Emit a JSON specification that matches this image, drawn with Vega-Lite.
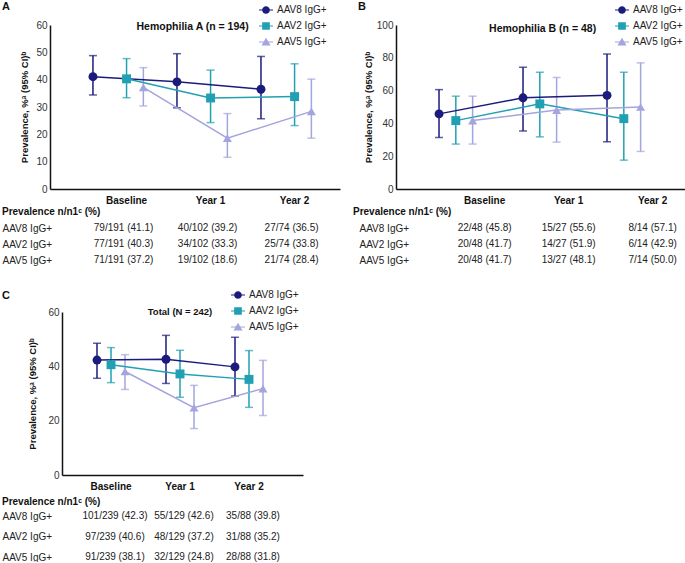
{
"$schema": "https://vega.github.io/schema/vega-lite/v6.json",
"padding": {"left": 2, "top": 1, "right": 0, "bottom": 0},
"config": {
  "font": "Liberation Sans",
  "view": {"stroke": null},
  "axis": {"grid": false, "ticks": false, "tickSize": 0, "labelOverlap": false, "domainColor": "#111", "domainWidth": 1.5, "labelFontSize": 10, "labelColor": "#333", "titleFontSize": 9.5, "titleFontWeight": "bold", "titleColor": "#111"},
  "axisX": {"labelFontWeight": "bold", "labelColor": "#111", "labelAngle": 0, "labelPadding": 6},
  "axisY": {"labelPadding": 3},
  "legend": {"labelFontSize": 10, "labelColor": "#222", "symbolSize": 196, "symbolOpacity": 1, "rowPadding": 1, "labelOffset": 3, "padding": 0},
  "title": {"fontSize": 11, "fontWeight": "bold", "color": "#111"}
},
"datasets": {
  "d": [
    {"panel":"A","time":"Baseline","series":"AAV8 IgG+","value":41.1,"lo":34.4,"hi":48.8},
    {"panel":"A","time":"Year 1","series":"AAV8 IgG+","value":39.2,"lo":29.7,"hi":49.5},
    {"panel":"A","time":"Year 2","series":"AAV8 IgG+","value":36.5,"lo":25.7,"hi":48.5},
    {"panel":"A","time":"Baseline","series":"AAV2 IgG+","value":40.3,"lo":33.4,"hi":47.7},
    {"panel":"A","time":"Year 1","series":"AAV2 IgG+","value":33.3,"lo":24.3,"hi":43.5},
    {"panel":"A","time":"Year 2","series":"AAV2 IgG+","value":33.8,"lo":23.2,"hi":45.8},
    {"panel":"A","time":"Baseline","series":"AAV5 IgG+","value":37.2,"lo":30.4,"hi":44.4},
    {"panel":"A","time":"Year 1","series":"AAV5 IgG+","value":18.6,"lo":11.6,"hi":27.6},
    {"panel":"A","time":"Year 2","series":"AAV5 IgG+","value":28.4,"lo":18.6,"hi":40.2},
    {"panel":"B","time":"Baseline","series":"AAV8 IgG+","value":45.8,"lo":31.4,"hi":60.6},
    {"panel":"B","time":"Year 1","series":"AAV8 IgG+","value":55.6,"lo":35.3,"hi":74.2},
    {"panel":"B","time":"Year 2","series":"AAV8 IgG+","value":57.1,"lo":28.8,"hi":82.3},
    {"panel":"B","time":"Baseline","series":"AAV2 IgG+","value":41.7,"lo":27.4,"hi":56.6},
    {"panel":"B","time":"Year 1","series":"AAV2 IgG+","value":51.9,"lo":31.8,"hi":71.2},
    {"panel":"B","time":"Year 2","series":"AAV2 IgG+","value":42.9,"lo":17.6,"hi":71.2},
    {"panel":"B","time":"Baseline","series":"AAV5 IgG+","value":41.7,"lo":27.4,"hi":56.6},
    {"panel":"B","time":"Year 1","series":"AAV5 IgG+","value":48.1,"lo":28.6,"hi":68.0},
    {"panel":"B","time":"Year 2","series":"AAV5 IgG+","value":50.0,"lo":22.9,"hi":76.9},
    {"panel":"C","time":"Baseline","series":"AAV8 IgG+","value":42.3,"lo":35.6,"hi":48.5},
    {"panel":"C","time":"Year 1","series":"AAV8 IgG+","value":42.6,"lo":33.7,"hi":51.4},
    {"panel":"C","time":"Year 2","series":"AAV8 IgG+","value":39.8,"lo":29.1,"hi":50.7},
    {"panel":"C","time":"Baseline","series":"AAV2 IgG+","value":40.6,"lo":34.0,"hi":46.9},
    {"panel":"C","time":"Year 1","series":"AAV2 IgG+","value":37.2,"lo":28.6,"hi":45.9},
    {"panel":"C","time":"Year 2","series":"AAV2 IgG+","value":35.2,"lo":24.9,"hi":45.8},
    {"panel":"C","time":"Baseline","series":"AAV5 IgG+","value":38.1,"lo":31.5,"hi":44.3},
    {"panel":"C","time":"Year 1","series":"AAV5 IgG+","value":24.8,"lo":17.1,"hi":33.0},
    {"panel":"C","time":"Year 2","series":"AAV5 IgG+","value":31.8,"lo":21.9,"hi":42.2}
  ],
  "t": [
    {"panel":"A","time":"Baseline","series":"AAV8 IgG+","label":"79/191 (41.1)"},
    {"panel":"A","time":"Year 1","series":"AAV8 IgG+","label":"40/102 (39.2)"},
    {"panel":"A","time":"Year 2","series":"AAV8 IgG+","label":"27/74 (36.5)"},
    {"panel":"A","time":"Baseline","series":"AAV2 IgG+","label":"77/191 (40.3)"},
    {"panel":"A","time":"Year 1","series":"AAV2 IgG+","label":"34/102 (33.3)"},
    {"panel":"A","time":"Year 2","series":"AAV2 IgG+","label":"25/74 (33.8)"},
    {"panel":"A","time":"Baseline","series":"AAV5 IgG+","label":"71/191 (37.2)"},
    {"panel":"A","time":"Year 1","series":"AAV5 IgG+","label":"19/102 (18.6)"},
    {"panel":"A","time":"Year 2","series":"AAV5 IgG+","label":"21/74 (28.4)"},
    {"panel":"B","time":"Baseline","series":"AAV8 IgG+","label":"22/48 (45.8)"},
    {"panel":"B","time":"Year 1","series":"AAV8 IgG+","label":"15/27 (55.6)"},
    {"panel":"B","time":"Year 2","series":"AAV8 IgG+","label":"8/14 (57.1)"},
    {"panel":"B","time":"Baseline","series":"AAV2 IgG+","label":"20/48 (41.7)"},
    {"panel":"B","time":"Year 1","series":"AAV2 IgG+","label":"14/27 (51.9)"},
    {"panel":"B","time":"Year 2","series":"AAV2 IgG+","label":"6/14 (42.9)"},
    {"panel":"B","time":"Baseline","series":"AAV5 IgG+","label":"20/48 (41.7)"},
    {"panel":"B","time":"Year 1","series":"AAV5 IgG+","label":"13/27 (48.1)"},
    {"panel":"B","time":"Year 2","series":"AAV5 IgG+","label":"7/14 (50.0)"},
    {"panel":"C","time":"Baseline","series":"AAV8 IgG+","label":"101/239 (42.3)"},
    {"panel":"C","time":"Year 1","series":"AAV8 IgG+","label":"55/129 (42.6)"},
    {"panel":"C","time":"Year 2","series":"AAV8 IgG+","label":"35/88 (39.8)"},
    {"panel":"C","time":"Baseline","series":"AAV2 IgG+","label":"97/239 (40.6)"},
    {"panel":"C","time":"Year 1","series":"AAV2 IgG+","label":"48/129 (37.2)"},
    {"panel":"C","time":"Year 2","series":"AAV2 IgG+","label":"31/88 (35.2)"},
    {"panel":"C","time":"Baseline","series":"AAV5 IgG+","label":"91/239 (38.1)"},
    {"panel":"C","time":"Year 1","series":"AAV5 IgG+","label":"32/129 (24.8)"},
    {"panel":"C","time":"Year 2","series":"AAV5 IgG+","label":"28/88 (31.8)"}
  ]
},
"resolve": {"scale": {"x": "independent", "y": "independent", "xOffset": "independent", "color": "independent", "shape": "independent"}, "legend": {"color": "independent", "shape": "independent"}},
"columns": 1,
"spacing": 22,
"concat": [
 {
  "spacing": 13,
  "resolve": {"scale": {"x": "independent", "y": "independent", "xOffset": "independent", "color": "independent", "shape": "independent"}, "legend": {"color": "independent", "shape": "independent"}},
  "hconcat": [
   {
    "title": {"text": "A", "anchor": "start", "frame": "bounds", "offset": -10},
    "spacing": 2,
    "resolve": {"scale": {"x": "independent", "y": "independent", "xOffset": "independent", "color": "independent", "shape": "independent"}, "legend": {"color": "independent", "shape": "independent"}},
    "vconcat": [
     {
      "width": 290, "height": 164,
      "layer": [
       {
        "data": {"name": "d"},
        "transform": [{"filter": "datum.panel == 'A'"}],
        "resolve": {"scale": {"color": "independent", "shape": "independent"}, "legend": {"color": "independent", "shape": "independent"}},
        "encoding": {
          "x": {"field": "time", "type": "nominal", "title": null, "scale": {"type": "band", "domain": ["Baseline","Year 1","Year 2"], "paddingInner": 0, "paddingOuter": 0.226, "align": 0.91}},
          "xOffset": {"field": "series", "type": "nominal", "scale": {"domain": ["AAV8 IgG+","g1","AAV2 IgG+","AAV5 IgG+","g2"], "paddingInner": 0, "paddingOuter": 0}},
          "y": {"field": "value", "type": "quantitative", "title": "Prevalence, %ᵃ (95% CI)ᵇ", "scale": {"domain": [0, 60], "nice": false}, "axis": {"values": [0,10,20,30,40,50,60], "titlePadding": 6}},
          "color": {"field": "series", "type": "nominal", "title": null, "scale": {"domain": ["AAV8 IgG+","AAV2 IgG+","AAV5 IgG+"], "range": ["#1b1b7d","#21a0b3","#a4a4de"]}, "legend": null}
        },
        "layer": [
          {"mark": {"type": "rule", "strokeWidth": 1.5}, "encoding": {"y": {"field": "lo", "type": "quantitative", "title": "Prevalence, %ᵃ (95% CI)ᵇ", "scale": {"domain": [0, 60], "nice": false}, "axis": {"values": [0,10,20,30,40,50,60], "titlePadding": 6}}, "y2": {"field": "hi"}}},
          {"mark": {"type": "tick", "size": 8, "thickness": 1.5}, "encoding": {"y": {"field": "lo", "type": "quantitative", "title": "Prevalence, %ᵃ (95% CI)ᵇ", "scale": {"domain": [0, 60], "nice": false}, "axis": {"values": [0,10,20,30,40,50,60], "titlePadding": 6}}}},
          {"mark": {"type": "tick", "size": 8, "thickness": 1.5}, "encoding": {"y": {"field": "hi", "type": "quantitative", "title": "Prevalence, %ᵃ (95% CI)ᵇ", "scale": {"domain": [0, 60], "nice": false}, "axis": {"values": [0,10,20,30,40,50,60], "titlePadding": 6}}}},
          {"mark": {"type": "line", "strokeWidth": 1.5}},
          {"mark": {"type": "point", "filled": true, "opacity": 1, "size": 80}, "encoding": {"shape": {"field": "series", "type": "nominal", "title": null, "scale": {"domain": ["AAV8 IgG+","AAV2 IgG+","AAV5 IgG+"], "range": ["circle","square","triangle-up"]}, "legend": null}}},
          {"transform": [{"filter": "false"}], "mark": {"type": "point", "filled": true, "opacity": 1}, "encoding": {
            "color": {"field": "series", "type": "nominal", "title": null, "scale": {"domain": ["AAV8 IgG+","AAV2 IgG+","AAV5 IgG+"], "range": ["#1b1b7d","#21a0b3","#a4a4de"]}, "legend": {"orient": "none", "legendX": 208, "legendY": -23, "symbolSize": 196, "symbolOpacity": 1}},
            "shape": {"field": "series", "type": "nominal", "title": null, "scale": {"domain": ["AAV8 IgG+","AAV2 IgG+","AAV5 IgG+"], "range": ["M-1,-0.08H1V0.08H-1Z M0.55,0A0.55,0.55,0,1,1,-0.55,0A0.55,0.55,0,1,1,0.55,0Z","M-1,-0.08H1V0.08H-1Z M-0.55,-0.55H0.55V0.55H-0.55Z","M-1,-0.08H1V0.08H-1Z M0,-0.6L0.65,0.5H-0.65Z"]}, "legend": {"orient": "none", "legendX": 208, "legendY": -23, "symbolSize": 196, "symbolOpacity": 1}}}}
        ]
       },
       {
        "data": {"values": [{"t": "Hemophilia A (n = 194)"}]},
        "mark": {"type": "text", "fontWeight": "bold", "fontSize": 10.5, "dx": -18, "dy": 2, "color": "#111"},
        "encoding": {"x": {"datum": "Year 1", "title": null}, "y": {"datum": 60, "type": "quantitative", "title": "Prevalence, %ᵃ (95% CI)ᵇ", "scale": {"domain": [0, 60], "nice": false}, "axis": {"values": [0,10,20,30,40,50,60], "titlePadding": 6}}, "text": {"field": "t"}}
       }
      ]
     },
     {
      "width": 290, "height": 32,
      "data": {"name": "t"},
      "transform": [{"filter": "datum.panel == 'A'"}],
      "title": {"text": "Prevalence n/n1ᶜ (%)", "anchor": "start", "frame": "bounds", "offset": 6, "fontSize": 10},
      "mark": {"type": "text", "fontSize": 10, "color": "#222", "dx": -3},
      "encoding": {
        "x": {"field": "time", "type": "nominal", "scale": {"type": "band", "domain": ["Baseline","Year 1","Year 2"], "paddingInner": 0, "paddingOuter": 0.226, "align": 0.91}, "axis": null},
        "y": {"field": "series", "type": "nominal", "scale": {"type": "point", "padding": 0, "domain": ["AAV8 IgG+","AAV2 IgG+","AAV5 IgG+"]}, "axis": {"title": null, "domain": false, "ticks": false, "labelAlign": "left", "labelPadding": 48, "labelFontSize": 10, "labelColor": "#222"}},
        "text": {"field": "label"}
      }
     }
    ]
   },
   {
    "title": {"text": "B", "anchor": "start", "frame": "bounds", "offset": -10, "dx": 5},
    "spacing": 2,
    "resolve": {"scale": {"x": "independent", "y": "independent", "xOffset": "independent", "color": "independent", "shape": "independent"}, "legend": {"color": "independent", "shape": "independent"}},
    "vconcat": [
     {
      "width": 295, "height": 164,
      "layer": [
       {
        "data": {"name": "d"},
        "transform": [{"filter": "datum.panel == 'B'"}],
        "resolve": {"scale": {"color": "independent", "shape": "independent"}, "legend": {"color": "independent", "shape": "independent"}},
        "encoding": {
          "x": {"field": "time", "type": "nominal", "title": null, "scale": {"type": "band", "domain": ["Baseline","Year 1","Year 2"], "paddingInner": 0, "paddingOuter": 0.256, "align": 0.805}, "axis": {"labelOffset": 12}},
          "xOffset": {"field": "series", "type": "nominal", "scale": {"domain": ["AAV8 IgG+","AAV2 IgG+","AAV5 IgG+","g1","g2"], "paddingInner": 0, "paddingOuter": 0}},
          "y": {"field": "value", "type": "quantitative", "title": "Prevalence, %ᵃ (95% CI)ᵇ", "scale": {"domain": [0, 100], "nice": false}, "axis": {"values": [0,20,40,60,80,100], "titlePadding": 3}},
          "color": {"field": "series", "type": "nominal", "title": null, "scale": {"domain": ["AAV8 IgG+","AAV2 IgG+","AAV5 IgG+"], "range": ["#1b1b7d","#21a0b3","#a4a4de"]}, "legend": null}
        },
        "layer": [
          {"mark": {"type": "rule", "strokeWidth": 1.5}, "encoding": {"y": {"field": "lo", "type": "quantitative", "title": "Prevalence, %ᵃ (95% CI)ᵇ", "scale": {"domain": [0, 100], "nice": false}, "axis": {"values": [0,20,40,60,80,100], "titlePadding": 3}}, "y2": {"field": "hi"}}},
          {"mark": {"type": "tick", "size": 8, "thickness": 1.5}, "encoding": {"y": {"field": "lo", "type": "quantitative", "title": "Prevalence, %ᵃ (95% CI)ᵇ", "scale": {"domain": [0, 100], "nice": false}, "axis": {"values": [0,20,40,60,80,100], "titlePadding": 3}}}},
          {"mark": {"type": "tick", "size": 8, "thickness": 1.5}, "encoding": {"y": {"field": "hi", "type": "quantitative", "title": "Prevalence, %ᵃ (95% CI)ᵇ", "scale": {"domain": [0, 100], "nice": false}, "axis": {"values": [0,20,40,60,80,100], "titlePadding": 3}}}},
          {"mark": {"type": "line", "strokeWidth": 1.5}},
          {"mark": {"type": "point", "filled": true, "opacity": 1, "size": 80}, "encoding": {"shape": {"field": "series", "type": "nominal", "title": null, "scale": {"domain": ["AAV8 IgG+","AAV2 IgG+","AAV5 IgG+"], "range": ["circle","square","triangle-up"]}, "legend": null}}},
          {"transform": [{"filter": "false"}], "mark": {"type": "point", "filled": true, "opacity": 1}, "encoding": {
            "color": {"field": "series", "type": "nominal", "title": null, "scale": {"domain": ["AAV8 IgG+","AAV2 IgG+","AAV5 IgG+"], "range": ["#1b1b7d","#21a0b3","#a4a4de"]}, "legend": {"orient": "none", "legendX": 218, "legendY": -23, "symbolSize": 196, "symbolOpacity": 1}},
            "shape": {"field": "series", "type": "nominal", "title": null, "scale": {"domain": ["AAV8 IgG+","AAV2 IgG+","AAV5 IgG+"], "range": ["M-1,-0.08H1V0.08H-1Z M0.55,0A0.55,0.55,0,1,1,-0.55,0A0.55,0.55,0,1,1,0.55,0Z","M-1,-0.08H1V0.08H-1Z M-0.55,-0.55H0.55V0.55H-0.55Z","M-1,-0.08H1V0.08H-1Z M0,-0.6L0.65,0.5H-0.65Z"]}, "legend": {"orient": "none", "legendX": 218, "legendY": -23, "symbolSize": 196, "symbolOpacity": 1}}}}
        ]
       },
       {
        "data": {"values": [{"t": "Hemophilia B (n = 48)"}]},
        "mark": {"type": "text", "fontWeight": "bold", "fontSize": 10.5, "dx": -14, "dy": 4, "color": "#111"},
        "encoding": {"x": {"datum": "Year 1", "title": null}, "y": {"datum": 100, "type": "quantitative", "title": "Prevalence, %ᵃ (95% CI)ᵇ", "scale": {"domain": [0, 100], "nice": false}, "axis": {"values": [0,20,40,60,80,100], "titlePadding": 3}}, "text": {"field": "t"}}
       }
      ]
     },
     {
      "width": 295, "height": 32,
      "data": {"name": "t"},
      "transform": [{"filter": "datum.panel == 'B'"}],
      "title": {"text": "Prevalence n/n1ᶜ (%)", "anchor": "start", "frame": "bounds", "offset": 6, "fontSize": 10, "dx": -6},
      "mark": {"type": "text", "fontSize": 10, "color": "#222", "dx": 12},
      "encoding": {
        "x": {"field": "time", "type": "nominal", "scale": {"type": "band", "domain": ["Baseline","Year 1","Year 2"], "paddingInner": 0, "paddingOuter": 0.256, "align": 0.805}, "axis": null},
        "y": {"field": "series", "type": "nominal", "scale": {"type": "point", "padding": 0, "domain": ["AAV8 IgG+","AAV2 IgG+","AAV5 IgG+"]}, "axis": {"title": null, "domain": false, "ticks": false, "labelAlign": "left", "labelPadding": 37, "labelFontSize": 10, "labelColor": "#222"}},
        "text": {"field": "label"}
      }
     }
    ]
   }
  ]
 },
 {
  "title": {"text": "C", "anchor": "start", "frame": "bounds", "offset": -14},
  "spacing": 6,
  "resolve": {"scale": {"x": "independent", "y": "independent", "xOffset": "independent", "color": "independent", "shape": "independent"}, "legend": {"color": "independent", "shape": "independent"}},
  "vconcat": [
   {
    "width": 253, "height": 188,
    "layer": [
     {
      "data": {"name": "d"},
      "transform": [{"filter": "datum.panel == 'C'"}],
      "resolve": {"scale": {"color": "independent", "shape": "independent"}, "legend": {"color": "independent", "shape": "independent"}},
      "encoding": {
        "x": {"field": "time", "type": "nominal", "title": null, "scale": {"type": "band", "range": [12, 253], "domain": ["Baseline","Year 1","Year 2"], "paddingInner": 0.391, "paddingOuter": 0.442, "align": 0.459}},
        "xOffset": {"field": "series", "type": "nominal", "scale": {"domain": ["AAV8 IgG+","AAV2 IgG+","AAV5 IgG+"], "paddingInner": 0, "paddingOuter": 0}},
        "y": {"field": "value", "type": "quantitative", "title": "Prevalence, %ᵃ (95% CI)ᵇ", "scale": {"domain": [0, 60], "nice": false, "range": [188, 25]}, "axis": {"values": [0,20,40,60], "titlePadding": 10, "offset": -12}},
        "color": {"field": "series", "type": "nominal", "title": null, "scale": {"domain": ["AAV8 IgG+","AAV2 IgG+","AAV5 IgG+"], "range": ["#1b1b7d","#21a0b3","#a4a4de"]}, "legend": null}
      },
      "layer": [
        {"mark": {"type": "rule", "strokeWidth": 1.5}, "encoding": {"y": {"field": "lo", "type": "quantitative", "title": "Prevalence, %ᵃ (95% CI)ᵇ", "scale": {"domain": [0, 60], "nice": false, "range": [188, 25]}, "axis": {"values": [0,20,40,60], "titlePadding": 10, "offset": -12}}, "y2": {"field": "hi"}}},
        {"mark": {"type": "tick", "size": 8, "thickness": 1.5}, "encoding": {"y": {"field": "lo", "type": "quantitative", "title": "Prevalence, %ᵃ (95% CI)ᵇ", "scale": {"domain": [0, 60], "nice": false, "range": [188, 25]}, "axis": {"values": [0,20,40,60], "titlePadding": 10, "offset": -12}}}},
        {"mark": {"type": "tick", "size": 8, "thickness": 1.5}, "encoding": {"y": {"field": "hi", "type": "quantitative", "title": "Prevalence, %ᵃ (95% CI)ᵇ", "scale": {"domain": [0, 60], "nice": false, "range": [188, 25]}, "axis": {"values": [0,20,40,60], "titlePadding": 10, "offset": -12}}}},
        {"mark": {"type": "line", "strokeWidth": 1.5}},
        {"mark": {"type": "point", "filled": true, "opacity": 1, "size": 80}, "encoding": {"shape": {"field": "series", "type": "nominal", "title": null, "scale": {"domain": ["AAV8 IgG+","AAV2 IgG+","AAV5 IgG+"], "range": ["circle","square","triangle-up"]}, "legend": null}}},
        {"transform": [{"filter": "false"}], "mark": {"type": "point", "filled": true, "opacity": 1}, "encoding": {
          "color": {"field": "series", "type": "nominal", "title": null, "scale": {"domain": ["AAV8 IgG+","AAV2 IgG+","AAV5 IgG+"], "range": ["#1b1b7d","#21a0b3","#a4a4de"]}, "legend": {"orient": "none", "legendX": 180, "legendY": 0, "symbolSize": 196, "symbolOpacity": 1}},
          "shape": {"field": "series", "type": "nominal", "title": null, "scale": {"domain": ["AAV8 IgG+","AAV2 IgG+","AAV5 IgG+"], "range": ["M-1,-0.08H1V0.08H-1Z M0.55,0A0.55,0.55,0,1,1,-0.55,0A0.55,0.55,0,1,1,0.55,0Z","M-1,-0.08H1V0.08H-1Z M-0.55,-0.55H0.55V0.55H-0.55Z","M-1,-0.08H1V0.08H-1Z M0,-0.6L0.65,0.5H-0.65Z"]}, "legend": {"orient": "none", "legendX": 180, "legendY": 0, "symbolSize": 196, "symbolOpacity": 1}}}}
      ]
     },
     {
      "data": {"values": [{"t": "Total (N = 242)"}]},
      "mark": {"type": "text", "fontWeight": "bold", "fontSize": 9.5, "dx": 0, "dy": 0, "color": "#111"},
      "encoding": {"x": {"datum": "Year 1", "title": null}, "y": {"datum": 60, "type": "quantitative", "title": "Prevalence, %ᵃ (95% CI)ᵇ", "scale": {"domain": [0, 60], "nice": false, "range": [188, 25]}, "axis": {"values": [0,20,40,60], "titlePadding": 10, "offset": -12}}, "text": {"field": "t"}}
     }
    ]
   },
   {
    "width": 253, "height": 41,
    "data": {"name": "t"},
    "transform": [{"filter": "datum.panel == 'C'"}],
    "title": {"text": "Prevalence n/n1ᶜ (%)", "anchor": "start", "frame": "bounds", "offset": 4, "fontSize": 10},
    "mark": {"type": "text", "fontSize": 10, "color": "#222", "dx": 4},
    "encoding": {
      "x": {"field": "time", "type": "nominal", "scale": {"type": "band", "range": [12, 253], "domain": ["Baseline","Year 1","Year 2"], "paddingInner": 0.391, "paddingOuter": 0.442, "align": 0.459}, "axis": null},
      "y": {"field": "series", "type": "nominal", "scale": {"type": "point", "padding": 0, "domain": ["AAV8 IgG+","AAV2 IgG+","AAV5 IgG+"]}, "axis": {"title": null, "domain": false, "ticks": false, "labelAlign": "left", "labelPadding": 48, "labelFontSize": 10, "labelColor": "#222"}},
      "text": {"field": "label"}
    }
   }
  ]
 }
]
}
